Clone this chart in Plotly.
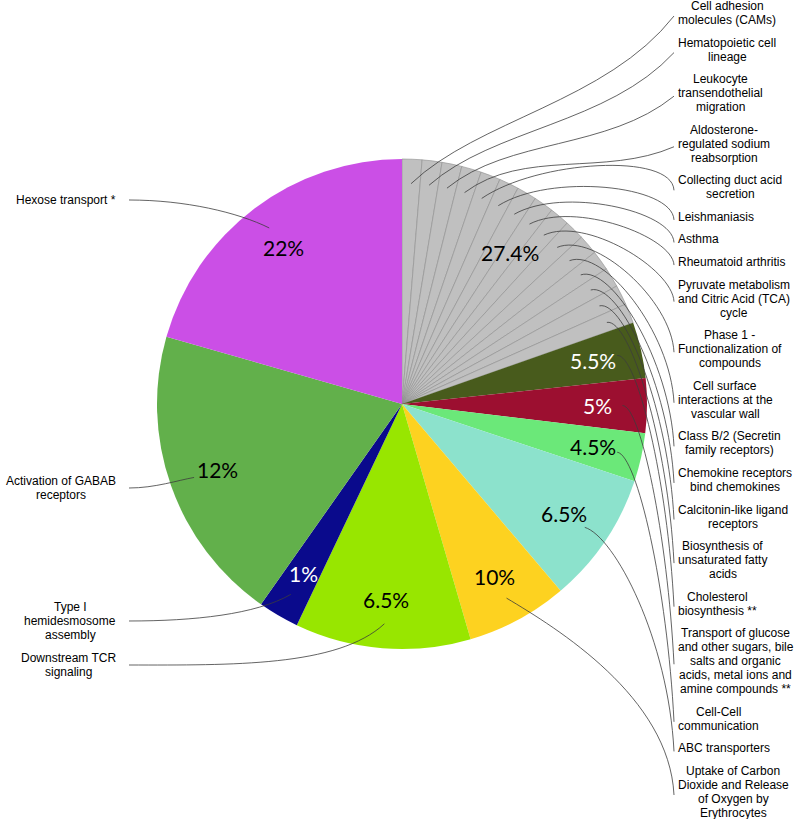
import math
import plotly.graph_objects as go

# ---------------- data ----------------
slice_names = [
    "Cell adhesion<br>molecules (CAMs)",
    "Hematopoietic cell<br>lineage",
    "Leukocyte<br>transendothelial<br>migration",
    "Aldosterone-<br>regulated sodium<br>reabsorption",
    "Collecting duct acid<br>secretion",
    "Leishmaniasis",
    "Asthma",
    "Rheumatoid arthritis",
    "Pyruvate metabolism<br>and Citric Acid (TCA)<br>cycle",
    "Phase 1 -<br>Functionalization of<br>compounds",
    "Cell surface<br>interactions at the<br>vascular wall",
    "Class B/2 (Secretin<br>family receptors)",
    "Chemokine receptors<br>bind chemokines",
    "Calcitonin-like ligand<br>receptors",
    "Biosynthesis of<br>unsaturated fatty<br>acids",
    "Cholesterol<br>biosynthesis **",
    "Transport of glucose<br>and other sugars, bile<br>salts and organic<br>acids, metal ions and<br>amine compounds **",
    "Cell-Cell<br>communication",
    "ABC transporters",
    "Uptake of Carbon<br>Dioxide and Release<br>of Oxygen by<br>Erythrocytes",
    "Downstream TCR<br>signaling",
    "Type I<br>hemidesmosome<br>assembly",
    "Activation of GABAB<br>receptors",
    "Hexose transport *",
]
slice_values = [
    1.31, 1.31, 1.31, 1.31, 1.31, 1.31, 1.31, 1.31, 1.31, 1.31,
    1.31, 1.31, 1.31, 1.31, 1.31,
    3.7, 3.6, 3.2, 8.7, 6.7, 11.6, 2.7, 19.7, 20.6,
]
slice_pct = ["", "", "", "", "", "", "", "", "", "", "", "", "", "", "",
             "5.5%", "5%", "4.5%", "6.5%", "10%", "6.5%", "1%", "12%", "22%"]
gray_group_pct = "27.4%"
GRAY = "#c0c0c0"
slice_colors = [GRAY] * 15 + ["#485b1c", "#9c0f30", "#6be879", "#8ce2cc", "#fdd220",
                              "#98e600", "#0a0a8c", "#62b04b", "#cb4fe6"]
pct_font_colors = ["black"] * 15 + ["white", "white", "black", "black", "black",
                                    "black", "white", "black", "black"]
left_label_centers = {
    "Hexose transport *": 200,
    "Activation of GABAB<br>receptors": 488,
    "Type I<br>hemidesmosome<br>assembly": 621,
    "Downstream TCR<br>signaling": 665,
}

# ---------------- layout constants ----------------
W, H = 800, 819
CX, CY, R = 402, 404, 245
LABEL_FS = 12
LINE_H = 14
FIRST_LINE_Y, LAST_LINE_Y = 6, 813
RIGHT_LEFT = 678
LEFT_RIGHT = 116
LINE_COLOR = "#3c3c3c"

ARIAL = {' ': 278, '!': 278, '(': 333, ')': 333, '*': 389, ',': 278, '-': 333, '.': 278,
         '/': 278, ':': 278,
         'A': 667, 'B': 667, 'C': 722, 'D': 722, 'E': 667, 'F': 611, 'G': 778, 'H': 722,
         'I': 278, 'J': 500, 'K': 667, 'L': 556, 'M': 833, 'N': 722, 'O': 778, 'P': 667,
         'Q': 778, 'R': 722, 'S': 667, 'T': 611, 'U': 722, 'V': 667, 'W': 944, 'X': 667,
         'Y': 667, 'Z': 611,
         'a': 556, 'b': 556, 'c': 500, 'd': 556, 'e': 556, 'f': 278, 'g': 556, 'h': 556,
         'i': 222, 'j': 222, 'k': 500, 'l': 222, 'm': 833, 'n': 556, 'o': 556, 'p': 556,
         'q': 556, 'r': 333, 's': 500, 't': 278, 'u': 556, 'v': 500, 'w': 722, 'x': 500,
         'y': 500, 'z': 500}


def text_w(s, fs=LABEL_FS):
    return sum(ARIAL.get(c, 556) for c in s) * fs / 1000.0


def px(x, y):
    return x / W, 1 - y / H


def polar(ang, r):
    t = math.radians(ang)
    return CX + r * math.sin(t), CY - r * math.cos(t)


def norm(x, y):
    d = math.hypot(x, y) or 1
    return x / d, y / d


n = len(slice_values)
total = sum(slice_values)
starts, mids = [], []
cum = 0
for v in slice_values:
    a0 = cum / total * 360
    cum += v
    a1 = cum / total * 360
    starts.append(a0)
    mids.append((a0 + a1) / 2)

fig = go.Figure()
fig.add_trace(go.Pie(
    values=slice_values, labels=slice_names, sort=False, direction="clockwise",
    rotation=0, textinfo="none", hoverinfo="skip", showlegend=False,
    marker=dict(colors=slice_colors,
                line=dict(color=["#8f8f8f" if c == GRAY else c for c in slice_colors],
                          width=[0.6 if c == GRAY else 0 for c in slice_colors])),
    domain=dict(x=[(CX - R) / W, (CX + R) / W],
                y=[(H - CY - R) / H, (H - CY + R) / H]),
))

annotations = []
shapes = []
label_font = dict(family="Liberation Sans, Arial", size=LABEL_FS, color="black")

# right-side label stacking
right_idx = [i for i in range(n) if mids[i] < 180]
total_lines = sum(len(slice_names[i].split("<br>")) for i in right_idx)
gap = (LAST_LINE_Y - FIRST_LINE_Y - (total_lines - 1) * LINE_H) / (len(right_idx) - 1)
block_center = {}
y = FIRST_LINE_Y
for i in right_idx:
    lines = slice_names[i].split("<br>")
    ys = [y + k * LINE_H for k in range(len(lines))]
    block_center[i] = (ys[0] + ys[-1]) / 2
    maxw = max(text_w(s) for s in lines)
    xc = RIGHT_LEFT + maxw / 2
    for s, yy in zip(lines, ys):
        xp, yp = px(xc, yy)
        annotations.append(dict(x=xp, y=yp, xref="paper", yref="paper", text=s,
                                showarrow=False, xanchor="center", yanchor="middle",
                                font=label_font))
    y = ys[-1] + LINE_H + gap

# left-side labels
for i in range(n):
    if mids[i] < 180:
        continue
    lines = slice_names[i].split("<br>")
    c = left_label_centers[slice_names[i]]
    ys = [c + (k - (len(lines) - 1) / 2) * LINE_H for k in range(len(lines))]
    block_center[i] = c
    maxw = max(text_w(s) for s in lines)
    xc = LEFT_RIGHT - maxw / 2
    for s, yy in zip(lines, ys):
        xp, yp = px(xc, yy)
        annotations.append(dict(x=xp, y=yp, xref="paper", yref="paper", text=s,
                                showarrow=False, xanchor="center", yanchor="middle",
                                font=label_font))

# leader lines
for i in range(n):
    right = mids[i] < 180
    side = 1 if right else -1
    x0, y0 = polar(mids[i], 0.9 * R)
    ux, uy = math.sin(math.radians(mids[i])), -math.cos(math.radians(mids[i]))
    dxn, dyn = norm(ux + side, uy)
    if right:
        ex, ey = RIGHT_LEFT - 4, block_center[i] + 3
        dx, dy = ex - x0, ey - y0
        a = 0.35 * abs(dx)
        if dy < -30:
            tx, ty = norm(dx, 2 * dy)
            b = 0.35 * math.hypot(dx, dy)
        else:
            tx, ty = norm(0.05, 1)
            b = max(0.5 * dy, 0.2 * abs(dx))
    else:
        ex, ey = LEFT_RIGHT + 13, block_center[i]
        dx, dy = ex - x0, ey - y0
        a = 0.25 * abs(dx)
        tx, ty = -1, 0
        b = 0.4 * abs(dx)
    x1, y1 = x0 + dxn * a, y0 + dyn * a
    x2, y2 = ex - tx * b, ey - ty * b
    pts = [px(x0, y0), px(x1, y1), px(x2, y2), px(ex, ey)]
    path = "M {:.5f},{:.5f} C {:.5f},{:.5f} {:.5f},{:.5f} {:.5f},{:.5f}".format(
        *[c for p in pts for c in p])
    shapes.append(dict(type="path", xref="paper", yref="paper", path=path,
                       line=dict(color=LINE_COLOR, width=0.8)))

# percentage texts
PCT_R = 0.8 * R
for i in range(n):
    if not slice_pct[i]:
        continue
    x, y = polar(mids[i], PCT_R)
    xp, yp = px(x, y)
    annotations.append(dict(x=xp, y=yp, xref="paper", yref="paper", text=slice_pct[i],
                            showarrow=False, xanchor="center", yanchor="middle",
                            font=dict(family="Lato", size=21, color=pct_font_colors[i])))
gray_ids = [i for i in range(n) if slice_colors[i] == GRAY]
g0 = starts[gray_ids[0]]
g1 = starts[gray_ids[-1]] + slice_values[gray_ids[-1]] / total * 360
x, y = polar((g0 + g1) / 2, 0.76 * R)
xp, yp = px(x, y)
annotations.append(dict(x=xp, y=yp, xref="paper", yref="paper", text=gray_group_pct,
                        showarrow=False, xanchor="center", yanchor="middle",
                        font=dict(family="Lato", size=21, color="black")))

fig.update_layout(width=W, height=H, margin=dict(l=0, r=0, t=0, b=0),
                  paper_bgcolor="white", plot_bgcolor="white",
                  annotations=annotations, shapes=shapes, showlegend=False)
fig.write_html("out.html",
               config={"displayModeBar": False},
               post_script="document.body.style.margin='0';"
                           "document.body.style.overflow='hidden';")
